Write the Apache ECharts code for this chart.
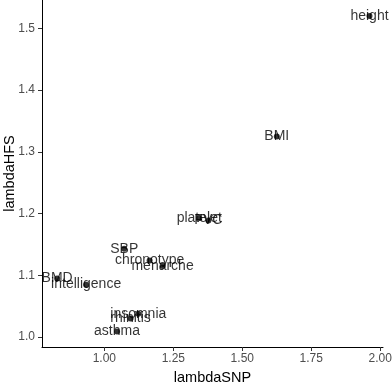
<!DOCTYPE html>
<html>
<head>
<meta charset="utf-8">
<script src="https://cdn.jsdelivr.net/npm/echarts@6/dist/echarts.min.js"></script>
<style>
  html, body { margin: 0; padding: 0; background: #fff; }
  #chart { width: 392px; height: 383px; }
</style>
</head>
<body>
<div id="chart"></div>
<script>
// traits, lambdaSNP (x) vs lambdaHFS (y)
const traits = ['height', 'BMI', 'platelet', 'FVC', 'SBP', 'chronotype', 'menarche',
                'BMD', 'intelligence', 'insomnia', 'rhinitis', 'asthma'];
const lambdaSNP = [1.961, 1.625, 1.344, 1.377, 1.072, 1.164, 1.211, 0.829, 0.934, 1.123, 1.095, 1.046];
const lambdaHFS = [1.520, 1.325, 1.193, 1.189, 1.143, 1.124, 1.115, 1.095, 1.085, 1.038, 1.030, 1.009];
const xTicks = [1.00, 1.25, 1.50, 1.75, 2.00];
const yTicks = [1.0, 1.1, 1.2, 1.3, 1.4, 1.5];

const points = traits.map((t, i) => ({ name: t, value: [lambdaSNP[i], lambdaHFS[i]] }));

const chart = echarts.init(document.getElementById('chart'));
const font = 'Liberation Sans, Arial, sans-serif';

chart.setOption({
    animation: false,
    grid: { left: 42, right: 9, top: 0, bottom: 36, outerBoundsMode: 'none' },
    xAxis: {
        type: 'value',
        min: 0.774,
        max: 2.01,
        name: 'lambdaSNP',
        nameLocation: 'middle',
        nameGap: 23,
        nameMoveOverlap: false,
        nameTextStyle: { color: '#000', fontSize: 14.5, fontFamily: font },
        axisLine: { show: true, onZero: false, lineStyle: { color: '#000', width: 1 } },
        axisTick: { show: true, length: 4, customValues: xTicks, lineStyle: { color: '#333' } },
        axisLabel: {
            customValues: xTicks, color: '#4d4d4d', fontSize: 12, fontFamily: font, margin: 6,
            formatter: v => v.toFixed(2)
        },
        splitLine: { show: false }
    },
    yAxis: {
        type: 'value',
        min: 0.984,
        max: 1.546,
        name: 'lambdaHFS',
        nameLocation: 'middle',
        nameGap: 25,
        nameMoveOverlap: false,
        nameTextStyle: { color: '#000', fontSize: 14.5, fontFamily: font },
        axisLine: { show: true, lineStyle: { color: '#000', width: 1 } },
        axisTick: { show: true, length: 4, customValues: yTicks, lineStyle: { color: '#333' } },
        axisLabel: {
            customValues: yTicks, color: '#4d4d4d', fontSize: 12, fontFamily: font, margin: 7,
            formatter: v => v.toFixed(1)
        },
        splitLine: { show: false }
    },
    series: [{
        type: 'scatter',
        data: points,
        symbolSize: 6,
        itemStyle: { color: '#000' },
        label: {
            show: true,
            position: 'inside',
            formatter: p => p.name,
            color: '#000',
            fontSize: 14,
            fontFamily: font
        },
        labelLayout: { hideOverlap: false }
    }]
});
</script>
</body>
</html>
